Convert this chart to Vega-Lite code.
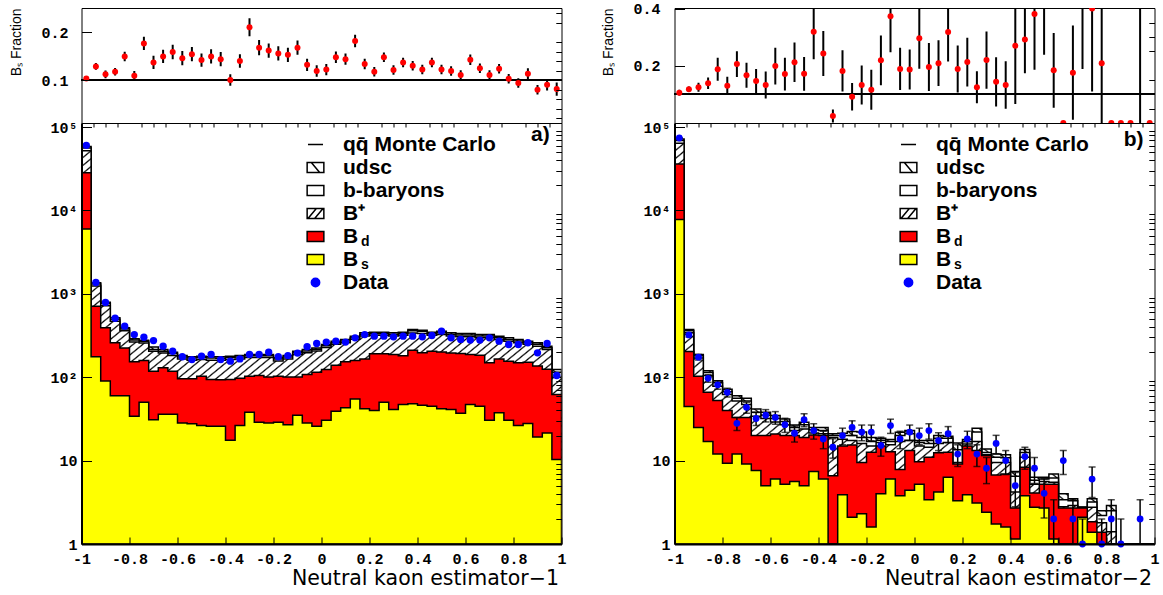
{
  "$schema": "https://vega.github.io/schema/vega-lite/v6.json",
  "background": "white",
  "padding": {"left": 8.5, "top": 1, "right": 0, "bottom": 0},
  "datasets": {
    "legendRows": [
      {"entry": "qq", "sub": "r1"}, {"entry": "udsc", "sub": "r2"}, {"entry": "bbar", "sub": "r3"},
      {"entry": "Bplus", "sub": "r4"}, {"entry": "Bd", "sub": "d"}, {"entry": "Bs", "sub": "s"}, {"entry": "Data", "sub": "r7"}
    ],
    "ratioA": [
      {"x":-0.98,"r":0.1035,"lo":0.0985,"hi":0.1085},{"x":-0.94,"r":0.1287,"lo":0.1217,"hi":0.1357},{"x":-0.9,"r":0.112,"lo":0.104,"hi":0.12},
      {"x":-0.86,"r":0.1175,"lo":0.1095,"hi":0.1255},{"x":-0.82,"r":0.1497,"lo":0.1397,"hi":0.1597},{"x":-0.78,"r":0.109,"lo":0.099,"hi":0.119},
      {"x":-0.74,"r":0.177,"lo":0.163,"hi":0.191},{"x":-0.7,"r":0.137,"lo":0.123,"hi":0.151},{"x":-0.66,"r":0.1497,"lo":0.1357,"hi":0.1637},
      {"x":-0.62,"r":0.159,"lo":0.144,"hi":0.174},{"x":-0.58,"r":0.146,"lo":0.131,"hi":0.161},{"x":-0.54,"r":0.1545,"lo":0.1395,"hi":0.1695},
      {"x":-0.5,"r":0.142,"lo":0.128,"hi":0.156},{"x":-0.46,"r":0.1497,"lo":0.1347,"hi":0.1647},{"x":-0.42,"r":0.144,"lo":0.129,"hi":0.159},
      {"x":-0.38,"r":0.1,"lo":0.088,"hi":0.112},{"x":-0.34,"r":0.14,"lo":0.126,"hi":0.154},{"x":-0.3,"r":0.211,"lo":0.192,"hi":0.23},
      {"x":-0.26,"r":0.168,"lo":0.152,"hi":0.184},{"x":-0.22,"r":0.162,"lo":0.147,"hi":0.177},{"x":-0.18,"r":0.156,"lo":0.141,"hi":0.171},
      {"x":-0.14,"r":0.153,"lo":0.138,"hi":0.168},{"x":-0.1,"r":0.168,"lo":0.153,"hi":0.183},{"x":-0.06,"r":0.132,"lo":0.119,"hi":0.145},
      {"x":-0.02,"r":0.119,"lo":0.107,"hi":0.131},{"x":0.02,"r":0.122,"lo":0.11,"hi":0.134},{"x":0.06,"r":0.148,"lo":0.136,"hi":0.16},
      {"x":0.1,"r":0.144,"lo":0.132,"hi":0.156},{"x":0.14,"r":0.182,"lo":0.169,"hi":0.195},{"x":0.18,"r":0.1336,"lo":0.1226,"hi":0.1446},
      {"x":0.22,"r":0.1175,"lo":0.1075,"hi":0.1275},{"x":0.26,"r":0.148,"lo":0.138,"hi":0.158},{"x":0.3,"r":0.121,"lo":0.111,"hi":0.131},
      {"x":0.34,"r":0.137,"lo":0.127,"hi":0.147},{"x":0.38,"r":0.13,"lo":0.12,"hi":0.14},{"x":0.42,"r":0.122,"lo":0.112,"hi":0.132},
      {"x":0.46,"r":0.137,"lo":0.127,"hi":0.147},{"x":0.5,"r":0.122,"lo":0.112,"hi":0.132},{"x":0.54,"r":0.119,"lo":0.109,"hi":0.129},
      {"x":0.58,"r":0.1105,"lo":0.1005,"hi":0.1205},{"x":0.62,"r":0.1427,"lo":0.1317,"hi":0.1537},{"x":0.66,"r":0.125,"lo":0.115,"hi":0.135},
      {"x":0.7,"r":0.1105,"lo":0.1005,"hi":0.1205},{"x":0.74,"r":0.124,"lo":0.114,"hi":0.134},{"x":0.78,"r":0.1028,"lo":0.0928,"hi":0.1128},
      {"x":0.82,"r":0.0937,"lo":0.0837,"hi":0.1037},{"x":0.86,"r":0.113,"lo":0.101,"hi":0.125},{"x":0.9,"r":0.0797,"lo":0.0697,"hi":0.0897},
      {"x":0.94,"r":0.09,"lo":0.078,"hi":0.102},{"x":0.98,"r":0.081,"lo":0.067,"hi":0.095}
    ],
    "ratioB": [
      {"x":-0.98,"r":0.106,"lo":0.096,"hi":0.116},{"x":-0.94,"r":0.118,"lo":0.108,"hi":0.128},{"x":-0.9,"r":0.125,"lo":0.109,"hi":0.141},
      {"x":-0.86,"r":0.139,"lo":0.119,"hi":0.159},{"x":-0.82,"r":0.188,"lo":0.148,"hi":0.228},{"x":-0.78,"r":0.13,"lo":0.098,"hi":0.162},
      {"x":-0.74,"r":0.206,"lo":0.161,"hi":0.251},{"x":-0.7,"r":0.167,"lo":0.123,"hi":0.211},{"x":-0.66,"r":0.147,"lo":0.105,"hi":0.189},
      {"x":-0.62,"r":0.133,"lo":0.086,"hi":0.18},{"x":-0.58,"r":0.199,"lo":0.135,"hi":0.263},{"x":-0.54,"r":0.171,"lo":0.114,"hi":0.228},
      {"x":-0.5,"r":0.212,"lo":0.143,"hi":0.281},{"x":-0.46,"r":0.172,"lo":0.113,"hi":0.231},{"x":-0.42,"r":0.319,"lo":0.223,"hi":0.415},
      {"x":-0.38,"r":0.243,"lo":0.164,"hi":0.322},{"x":-0.34,"r":0.0246,"lo":0.0016,"hi":0.0476},{"x":-0.3,"r":0.182,"lo":0.11,"hi":0.254},
      {"x":-0.26,"r":0.092,"lo":0.044,"hi":0.14},{"x":-0.22,"r":0.133,"lo":0.065,"hi":0.201},{"x":-0.18,"r":0.116,"lo":0.046,"hi":0.186},
      {"x":-0.14,"r":0.219,"lo":0.132,"hi":0.306},{"x":-0.1,"r":0.373,"lo":0.247,"hi":0.499},{"x":-0.06,"r":0.189,"lo":0.115,"hi":0.263},
      {"x":-0.02,"r":0.187,"lo":0.117,"hi":0.257},{"x":0.02,"r":0.296,"lo":0.19,"hi":0.402},{"x":0.06,"r":0.196,"lo":0.112,"hi":0.28},
      {"x":0.1,"r":0.209,"lo":0.129,"hi":0.289},{"x":0.14,"r":0.318,"lo":0.215,"hi":0.421},{"x":0.18,"r":0.189,"lo":0.107,"hi":0.271},
      {"x":0.22,"r":0.213,"lo":0.128,"hi":0.298},{"x":0.26,"r":0.125,"lo":0.069,"hi":0.181},{"x":0.3,"r":0.22,"lo":0.12,"hi":0.32},
      {"x":0.34,"r":0.144,"lo":0.058,"hi":0.23},{"x":0.38,"r":0.133,"lo":0.05,"hi":0.216},{"x":0.42,"r":0.27,"lo":0.066,"hi":0.474},
      {"x":0.46,"r":0.292,"lo":0.174,"hi":0.41},{"x":0.5,"r":0.381,"lo":0.186,"hi":0.576},{"x":0.54,"r":0.55,"lo":0.239,"hi":0.861},
      {"x":0.58,"r":0.184,"lo":0.053,"hi":0.315},{"x":0.62,"r":0,"lo":0,"hi":0},{"x":0.66,"r":0.176,"lo":0.011,"hi":0.341},
      {"x":0.7,"r":0.6,"lo":0.189,"hi":1.011},{"x":0.74,"r":0.4,"lo":0.11,"hi":0.69},{"x":0.78,"r":0.209,"lo":0,"hi":0.419},
      {"x":0.82,"r":0,"lo":0,"hi":0},{"x":0.86,"r":0,"lo":0,"hi":0},{"x":0.9,"r":0,"lo":0,"hi":0},
      {"x":0.94,"r":0.5,"lo":0,"hi":1},{"x":0.98,"r":0,"lo":0,"hi":0}
    ],
    "histA": [
      {"x":-1,"s":6000,"d":28400,"p":52000,"b":56000,"t":58500,"n":null},
      {"x":-0.98,"s":6000,"d":28400,"p":52000,"b":56000,"t":58500,"n":60500},
      {"x":-0.94,"s":176,"d":712,"p":1240,"b":1310,"t":1360,"n":1370},
      {"x":-0.9,"s":90,"d":392,"p":720,"b":765,"t":795,"n":790},
      {"x":-0.86,"s":60,"d":259,"p":470,"b":495,"t":516,"n":510},
      {"x":-0.82,"s":60,"d":225,"p":360,"b":378,"t":392,"n":410},
      {"x":-0.78,"s":34,"d":153,"p":265,"b":280,"t":289,"n":325},
      {"x":-0.74,"s":50,"d":159,"p":258,"b":270,"t":278,"n":302},
      {"x":-0.7,"s":31,"d":118,"p":205,"b":215,"t":230,"n":275},
      {"x":-0.66,"s":36,"d":130,"p":195,"b":205,"t":215,"n":236},
      {"x":-0.62,"s":36,"d":118,"p":182,"b":192,"t":200,"n":205},
      {"x":-0.58,"s":28.3,"d":96,"p":165,"b":175,"t":182,"n":176},
      {"x":-0.54,"s":27.6,"d":96,"p":160,"b":170,"t":176,"n":163},
      {"x":-0.5,"s":26.3,"d":103,"p":163,"b":172,"t":179,"n":179},
      {"x":-0.46,"s":25.8,"d":94,"p":160,"b":170,"t":176,"n":188},
      {"x":-0.42,"s":25.8,"d":93,"p":160,"b":169,"t":176,"n":163},
      {"x":-0.38,"s":17.5,"d":94,"p":163,"b":172,"t":179,"n":156},
      {"x":-0.34,"s":26.3,"d":97,"p":166,"b":175,"t":182,"n":166},
      {"x":-0.3,"s":38,"d":103,"p":172,"b":181,"t":188,"n":188},
      {"x":-0.26,"s":28.8,"d":105,"p":172,"b":181,"t":188,"n":188},
      {"x":-0.22,"s":28.3,"d":101,"p":172,"b":181,"t":188,"n":200},
      {"x":-0.18,"s":28.8,"d":103,"p":157,"b":165,"t":171,"n":176},
      {"x":-0.14,"s":27,"d":101,"p":166,"b":175,"t":182,"n":182},
      {"x":-0.1,"s":35,"d":101,"p":188,"b":197,"t":205,"n":195},
      {"x":-0.06,"s":28.3,"d":108,"p":197,"b":207,"t":215,"n":232},
      {"x":-0.02,"s":25.8,"d":115,"p":207,"b":217,"t":225,"n":254},
      {"x":0.02,"s":30.5,"d":124,"p":227,"b":238,"t":247,"n":264},
      {"x":0.06,"s":39,"d":139,"p":248,"b":260,"t":271,"n":271},
      {"x":0.1,"s":43,"d":153,"p":260,"b":273,"t":284,"n":264},
      {"x":0.14,"s":55,"d":159,"p":285,"b":298,"t":311,"n":297},
      {"x":0.18,"s":42,"d":166,"p":312,"b":327,"t":341,"n":325},
      {"x":0.22,"s":40,"d":191,"p":318,"b":333,"t":347,"n":311},
      {"x":0.26,"s":50,"d":191,"p":318,"b":333,"t":347,"n":311},
      {"x":0.3,"s":41,"d":187,"p":312,"b":327,"t":341,"n":305},
      {"x":0.34,"s":47,"d":181,"p":318,"b":333,"t":347,"n":311},
      {"x":0.38,"s":48,"d":211,"p":340,"b":360,"t":374,"n":311},
      {"x":0.42,"s":46,"d":196,"p":335,"b":355,"t":367,"n":305},
      {"x":0.46,"s":45,"d":205,"p":318,"b":333,"t":347,"n":317},
      {"x":0.5,"s":42,"d":201,"p":325,"b":342,"t":357,"n":357},
      {"x":0.54,"s":41,"d":195,"p":312,"b":327,"t":341,"n":297},
      {"x":0.58,"s":37,"d":192,"p":305,"b":320,"t":335,"n":284},
      {"x":0.62,"s":47,"d":187,"p":305,"b":320,"t":335,"n":279},
      {"x":0.66,"s":45,"d":183,"p":297,"b":312,"t":326,"n":279},
      {"x":0.7,"s":30.5,"d":149,"p":297,"b":312,"t":326,"n":297},
      {"x":0.74,"s":37.4,"d":166,"p":284,"b":297,"t":311,"n":271},
      {"x":0.78,"s":30.5,"d":155,"p":271,"b":284,"t":297,"n":247},
      {"x":0.82,"s":26.3,"d":149,"p":259,"b":272,"t":284,"n":247},
      {"x":0.86,"s":27.8,"d":151,"p":248,"b":260,"t":271,"n":259},
      {"x":0.9,"s":19.2,"d":136,"p":236,"b":248,"t":259,"n":196},
      {"x":0.94,"s":21.5,"d":125,"p":215,"b":226,"t":236,"n":254},
      {"x":0.98,"s":10.3,"d":62,"p":100,"b":115,"t":124,"n":105},
      {"x":1,"s":10.3,"d":62,"p":100,"b":115,"t":124,"n":null}
    ],
    "histB": [
      {"x":-1,"s":7820,"d":36000,"p":64000,"b":69000,"t":72000,"n":null,"nl":null,"nh":null},
      {"x":-0.98,"s":7820,"d":36000,"p":64000,"b":69000,"t":72000,"n":74000,"nl":73700,"nh":74300},
      {"x":-0.94,"s":44.5,"d":203,"p":341,"b":360,"t":373,"n":322,"nl":304,"nh":340},
      {"x":-0.9,"s":25,"d":103,"p":170,"b":181,"t":187,"n":174,"nl":161,"nh":187},
      {"x":-0.86,"s":16.9,"d":66,"p":105,"b":114,"t":120,"n":97,"nl":87,"nh":107},
      {"x":-0.82,"s":12,"d":52.5,"p":78,"b":86,"t":91,"n":81,"nl":72,"nh":90},
      {"x":-0.78,"s":9.3,"d":40,"p":62,"b":67,"t":72,"n":66,"nl":58,"nh":74},
      {"x":-0.74,"s":12,"d":33,"p":52,"b":56,"t":60,"n":28,"nl":23,"nh":33},
      {"x":-0.7,"s":9.1,"d":33,"p":47,"b":52,"t":56,"n":43.6,"nl":37,"nh":50},
      {"x":-0.66,"s":7.6,"d":20,"p":34,"b":38,"t":41.7,"n":32,"nl":26.3,"nh":37.7},
      {"x":-0.62,"s":5,"d":20,"p":32,"b":35,"t":38,"n":35,"nl":29.1,"nh":40.9},
      {"x":-0.58,"s":6,"d":20.9,"p":29,"b":32,"t":34.7,"n":33,"nl":27.3,"nh":38.7},
      {"x":-0.54,"s":5.2,"d":20,"p":27,"b":29.5,"t":31.6,"n":27,"nl":21.8,"nh":32.2},
      {"x":-0.5,"s":5.6,"d":20,"p":23,"b":25,"t":26.8,"n":21.3,"nl":16.7,"nh":25.9},
      {"x":-0.46,"s":5,"d":19,"p":24,"b":27,"t":28.8,"n":31,"nl":25.4,"nh":36.6},
      {"x":-0.42,"s":7.4,"d":20.3,"p":21.5,"b":23.5,"t":25,"n":22.9,"nl":18.1,"nh":27.7},
      {"x":-0.38,"s":6,"d":20,"p":21,"b":23,"t":25,"n":18.2,"nl":13.9,"nh":22.5},
      {"x":-0.34,"s":0.5,"d":6.6,"p":19,"b":20,"t":21,"n":14.5,"nl":10.7,"nh":18.3},
      {"x":-0.3,"s":3.9,"d":15,"p":18,"b":20,"t":21.3,"n":20,"nl":15.5,"nh":24.5},
      {"x":-0.26,"s":2.1,"d":15.4,"p":17.4,"b":20,"t":22.3,"n":25,"nl":20,"nh":30},
      {"x":-0.22,"s":2.3,"d":9.5,"p":16,"b":19,"t":22,"n":22,"nl":17.3,"nh":26.7},
      {"x":-0.18,"s":1.6,"d":12.6,"p":15,"b":17,"t":19,"n":22,"nl":17.3,"nh":26.7},
      {"x":-0.14,"s":4,"d":15,"p":16.5,"b":17.5,"t":18.5,"n":15.2,"nl":11.3,"nh":19.1},
      {"x":-0.1,"s":6,"d":12.8,"p":15.5,"b":17,"t":17.9,"n":26.3,"nl":21.2,"nh":31.4},
      {"x":-0.06,"s":3.8,"d":7.8,"p":17,"b":20,"t":21.9,"n":18.2,"nl":13.9,"nh":22.5},
      {"x":-0.02,"s":4.4,"d":13.2,"p":17.5,"b":21,"t":22.9,"n":22,"nl":17.3,"nh":26.7},
      {"x":0.02,"s":5.2,"d":9.7,"p":15,"b":16.5,"t":17.4,"n":20,"nl":15.5,"nh":24.5},
      {"x":0.06,"s":3.4,"d":11,"p":14.5,"b":16,"t":17.4,"n":22.9,"nl":18.1,"nh":27.7},
      {"x":0.1,"s":4.2,"d":12.4,"p":16,"b":18.5,"t":20,"n":17.4,"nl":13.2,"nh":21.6},
      {"x":0.14,"s":6.3,"d":12.6,"p":16.5,"b":18.5,"t":19.6,"n":21,"nl":16.4,"nh":25.6},
      {"x":0.18,"s":3.3,"d":9.1,"p":9.5,"b":13.5,"t":16.3,"n":12,"nl":8.5,"nh":15.5},
      {"x":0.22,"s":3.9,"d":15,"p":15.8,"b":16.8,"t":17.9,"n":18.2,"nl":13.9,"nh":22.5},
      {"x":0.26,"s":3.1,"d":13.2,"p":17,"b":22,"t":24.4,"n":12,"nl":8.5,"nh":15.5},
      {"x":0.3,"s":2.4,"d":11.5,"p":11.8,"b":12.5,"t":13.8,"n":8.1,"nl":5.3,"nh":10.9},
      {"x":0.34,"s":1.74,"d":6.7,"p":9.5,"b":11,"t":12,"n":16.1,"nl":12.1,"nh":20.1},
      {"x":0.38,"s":1.6,"d":6.9,"p":9.5,"b":10.8,"t":11.8,"n":10,"nl":6.8,"nh":13.2},
      {"x":0.42,"s":1.15,"d":2.7,"p":4.2,"b":6.5,"t":7.4,"n":5,"nl":2.8,"nh":7.2},
      {"x":0.46,"s":3.8,"d":8.3,"p":11,"b":12.5,"t":13.6,"n":11.2,"nl":7.9,"nh":14.5},
      {"x":0.5,"s":2.75,"d":4.1,"p":5.2,"b":5.8,"t":6.3,"n":8.1,"nl":5.3,"nh":10.9},
      {"x":0.54,"s":2.7,"d":5.2,"p":5.6,"b":6,"t":6.3,"n":4.05,"nl":2.05,"nh":6.05},
      {"x":0.58,"s":1.15,"d":5.2,"p":5.5,"b":6.2,"t":6.9,"n":2,"nl":0.6,"nh":3.4},
      {"x":0.62,"s":0,"d":2.7,"p":2.8,"b":3.4,"t":4,"n":10,"nl":6.8,"nh":13.2},
      {"x":0.66,"s":0.6,"d":2.7,"p":2.9,"b":3.3,"t":3.5,"n":2,"nl":0.6,"nh":3.4},
      {"x":0.7,"s":2.1,"d":2.7,"p":2.75,"b":2.75,"t":2.75,"n":1,"nl":0,"nh":2},
      {"x":0.74,"s":1.38,"d":1.85,"p":2.75,"b":3.2,"t":3.5,"n":6,"nl":3.6,"nh":8.4},
      {"x":0.78,"s":0.5,"d":1.38,"p":1.8,"b":2.2,"t":2.5,"n":1,"nl":0,"nh":2},
      {"x":0.82,"s":0,"d":0.8,"p":1.4,"b":2.5,"t":2.9,"n":2,"nl":0.6,"nh":3.4},
      {"x":0.86,"s":0,"d":0,"p":0.6,"b":0.8,"t":0.9,"n":1,"nl":0,"nh":2},
      {"x":0.9,"s":0,"d":0,"p":0,"b":0,"t":0,"n":null,"nl":null,"nh":null},
      {"x":0.94,"s":0,"d":0,"p":0,"b":0,"t":0,"n":2,"nl":0.6,"nh":3.4},
      {"x":0.98,"s":0,"d":0,"p":0,"b":0,"t":0,"n":null,"nl":null,"nh":null},
      {"x":1,"s":0,"d":0,"p":0,"b":0,"t":0,"n":null,"nl":null,"nh":null}
    ]
  },
  "hconcat": [
    {
      "vconcat": [
        {
          "width": 480, "height": 115,
          "data": {"name": "ratioA"},
          "layer": [
            {"mark": {"type": "rule", "color": "#000", "strokeWidth": 1},
             "encoding": {"y": {"datum": 0.1, "type": "quantitative", "scale": {"domain": [0.0097, 0.2515], "nice": false, "zero": false},
               "axis": {"values": [0.1, 0.2], "format": ".1f", "tickSize": -10, "labelPadding": 23.4, "domain": false, "zindex": 1,
                 "title": "Bₛ Fraction", "titleFont": "Liberation Sans", "titleFontWeight": "normal", "titleFontSize": 14,
                 "titleAngle": 270, "titleAlign": "right", "titleBaseline": "alphabetic", "titleX": -61, "titleY": 0}}}},
            {"mark": {"type": "rule", "color": "#000", "strokeWidth": 2, "clip": true},
             "encoding": {"x": {"field": "x", "type": "quantitative", "scale": {"domain": [-1, 1], "nice": false, "zero": false}, "axis": null},
               "y": {"field": "lo", "type": "quantitative", "axis": {"values": [0.02,0.04,0.06,0.08,0.12,0.14,0.16,0.18,0.22,0.24], "labels": false, "tickSize": -5.7, "domain": false, "title": null, "zindex": 1}},
               "y2": {"field": "hi"}}},
            {"mark": {"type": "point", "filled": true, "color": "#ff0000", "opacity": 1, "size": 36, "strokeWidth": 0, "clip": true},
             "encoding": {"x": {"field": "x", "type": "quantitative", "axis": null}, "y": {"field": "r", "type": "quantitative", "axis": null}}}
          ],
          "resolve": {"axis": {"y": "independent"}}
        },
        {
          "width": 480, "height": 421,
          "data": {"name": "histA"},
          "layer": [
            {"mark": {"type": "area", "interpolate": "step", "style": "hatchB", "stroke": "#000", "strokeWidth": 1.5, "clip": true},
             "encoding": {
               "x": {"field": "x", "type": "quantitative", "scale": {"domain": [-1, 1], "nice": false, "zero": false},
                 "axis": {"values": [-1,-0.8,-0.6,-0.4,-0.2,0,0.2,0.4,0.6,0.8,1], "labelExpr": "datum.value < 0 ? '-' + format(-datum.value, '~g') : format(datum.value, '~g')",
                   "tickSize": -7, "labelPadding": 21, "labelBaseline": "middle", "labelFlush": false, "domainWidth": 2, "zindex": 1,
                   "title": "Neutral kaon estimator−1", "titleFont": "DejaVu Sans", "titleFontWeight": "normal", "titleFontSize": 20.5,
                   "titleAlign": "right", "titleBaseline": "middle", "titleX": 477, "titleY": 34}},
               "y": {"field": "t", "type": "quantitative", "scale": {"type": "log", "domain": [1, 112000], "nice": false, "clamp": true},
                 "axis": {"values": [1,10,100,1000,10000,100000], "labelExpr": "datum.value == 1 ? '1\u00a0' : datum.value == 10 ? '10\u00a0' : datum.value == 100 ? '10²' : datum.value == 1000 ? '10³' : datum.value == 10000 ? '10⁴' : '10⁵'",
                   "tickSize": -10, "labelPadding": 14.4, "labelBaseline": "middle", "domainWidth": 2, "zindex": 1, "title": null}}}},
            {"mark": {"type": "area", "interpolate": "step", "fill": "#fff", "stroke": "#000", "strokeWidth": 1.5, "clip": true},
             "encoding": {
               "x": {"field": "x", "type": "quantitative", "axis": {"values": [-0.95,-0.9,-0.85,-0.75,-0.7,-0.65,-0.55,-0.5,-0.45,-0.35,-0.3,-0.25,-0.15,-0.1,-0.05,0.05,0.1,0.15,0.25,0.3,0.35,0.45,0.5,0.55,0.65,0.7,0.75,0.85,0.9,0.95], "labels": false, "tickSize": -4, "domain": false, "title": null, "zindex": 1}},
               "y": {"field": "b", "type": "quantitative", "axis": {"values": [2,3,4,5,6,7,8,9,20,30,40,50,60,70,80,90,200,300,400,500,600,700,800,900,2000,3000,4000,5000,6000,7000,8000,9000,20000,30000,40000,50000,60000,70000,80000,90000], "labels": false, "tickSize": -5.7, "domain": false, "title": null, "zindex": 1}}}},
            {"mark": {"type": "area", "interpolate": "step", "style": "hatchF", "stroke": "#000", "strokeWidth": 1.5, "clip": true},
             "encoding": {"x": {"field": "x", "type": "quantitative", "axis": null}, "y": {"field": "p", "type": "quantitative", "axis": null}}},
            {"mark": {"type": "area", "interpolate": "step", "fill": "#ff0000", "stroke": "#000", "strokeWidth": 1.5, "clip": true},
             "encoding": {"x": {"field": "x", "type": "quantitative", "axis": null}, "y": {"field": "d", "type": "quantitative", "axis": null}}},
            {"mark": {"type": "area", "interpolate": "step", "fill": "#ffff00", "stroke": "#000", "strokeWidth": 1.5, "clip": true},
             "encoding": {"x": {"field": "x", "type": "quantitative", "axis": null}, "y": {"field": "s", "type": "quantitative", "axis": null}}},
            {"transform": [{"filter": "datum.n != null"}],
             "mark": {"type": "point", "filled": true, "color": "#0000ff", "opacity": 1, "size": 54, "strokeWidth": 0},
             "encoding": {"x": {"field": "x", "type": "quantitative", "axis": null}, "y": {"field": "n", "type": "quantitative", "axis": null}}},
            {"data": {"name": "legendRows"},
             "mark": {"type": "point", "filled": true, "opacity": 0},
             "encoding": {
               "x": {"datum": 0, "type": "quantitative", "axis": null},
               "y": {"datum": 1000, "type": "quantitative", "axis": null},
               "shape": {"field": "entry", "type": "nominal",
                 "scale": {"domain": ["qq","udsc","bbar","Bplus","Bd","Bs","Data"],
                   "range": ["M-0.9,0H0.9","M-1,-0.6H1V0.6H-1Z M-0.5,-0.6L0.5,0.6","M-1,-0.6H1V0.6H-1Z","M-1,-0.6H1V0.6H-1Z M-0.9,0.6L0.1,-0.6 M-0.1,0.6L0.9,-0.6","M-1,-0.6H1V0.6H-1Z","M-1,-0.6H1V0.6H-1Z","M-0.5,0A0.5,0.5,0,1,1,0.5,0A0.5,0.5,0,1,1,-0.5,0Z"]},
                 "legend": {"title": null, "orient": "none", "legendX": 223.5, "legendY": 125, "padding": 0, "clipHeight": 23, "rowPadding": 0,
                   "symbolSize": 279, "symbolStrokeWidth": 1.5, "symbolOpacity": 1, "labelFont": "Liberation Sans", "labelFontWeight": "bold", "labelFontSize": 21,
                   "labelColor": "#000", "labelOffset": 17, "labelLimit": 400, "labelBaseline": "middle",
                   "labelExpr": "datum.value == 'qq' ? 'qq̄ Monte Carlo' : datum.value == 'udsc' ? 'udsc' : datum.value == 'bbar' ? 'b-baryons' : datum.value == 'Data' ? 'Data' : datum.value == 'Bplus' ? 'B⁺' : 'B'"}},
               "fill": {"field": "entry", "type": "nominal",
                 "scale": {"domain": ["qq","udsc","bbar","Bplus","Bd","Bs","Data"], "range": ["transparent","#ffffff","#ffffff","#ffffff","#ff0000","#ffff00","#0000ff"]},
                 "legend": {"title": null, "orient": "none", "legendX": 223.5, "legendY": 125, "padding": 0, "clipHeight": 23, "rowPadding": 0,
                   "symbolSize": 279, "symbolStrokeWidth": 1.5, "symbolOpacity": 1, "labelFont": "Liberation Sans", "labelFontWeight": "bold", "labelFontSize": 21,
                   "labelColor": "#000", "labelOffset": 17, "labelLimit": 400, "labelBaseline": "middle",
                   "labelExpr": "datum.value == 'qq' ? 'qq̄ Monte Carlo' : datum.value == 'udsc' ? 'udsc' : datum.value == 'bbar' ? 'b-baryons' : datum.value == 'Data' ? 'Data' : datum.value == 'Bplus' ? 'B⁺' : 'B'"}},
               "stroke": {"field": "entry", "type": "nominal",
                 "scale": {"domain": ["qq","udsc","bbar","Bplus","Bd","Bs","Data"], "range": ["#000000","#000000","#000000","#000000","#000000","#000000","#0000ff"]},
                 "legend": {"title": null, "orient": "none", "legendX": 223.5, "legendY": 125, "padding": 0, "clipHeight": 23, "rowPadding": 0,
                   "symbolSize": 279, "symbolStrokeWidth": 1.5, "symbolOpacity": 1, "labelFont": "Liberation Sans", "labelFontWeight": "bold", "labelFontSize": 21,
                   "labelColor": "#000", "labelOffset": 17, "labelLimit": 400, "labelBaseline": "middle",
                   "labelExpr": "datum.value == 'qq' ? 'qq̄ Monte Carlo' : datum.value == 'udsc' ? 'udsc' : datum.value == 'bbar' ? 'b-baryons' : datum.value == 'Data' ? 'Data' : datum.value == 'Bplus' ? 'B⁺' : 'B'"}},
               "strokeDash": {"field": "sub", "type": "nominal",
                 "scale": {"domain": ["r1","r2","r3","r4","d","s","r7"], "range": [[1,0],[1,0],[1,0],[1,0],[1,0],[1,0],[1,0]]},
                 "legend": {"title": null, "orient": "none", "legendX": 265.5, "legendY": 130, "padding": 0, "clipHeight": 23, "rowPadding": 0,
                   "symbolSize": 1, "symbolOpacity": 0, "labelOffset": 0, "labelFont": "Liberation Sans", "labelFontWeight": "bold", "labelFontSize": 14,
                   "labelColor": "#000", "labelBaseline": "middle",
                   "labelExpr": "datum.value == 'd' || datum.value == 's' ? datum.value : ''"}}}},
            {"data": {"values": [{}]},
             "mark": {"type": "text", "text": "a)", "font": "Liberation Sans", "fontWeight": "bold", "fontSize": 21, "align": "right", "baseline": "middle", "color": "#000"},
             "encoding": {"x": {"datum": 0.951, "type": "quantitative", "axis": null}, "y": {"datum": 80000, "type": "quantitative", "axis": null}}}
          ],
          "resolve": {"axis": {"x": "independent", "y": "independent"}}
        }
      ],
      "spacing": 0,
      "bounds": "flush"
    },
    {
      "vconcat": [
        {
          "width": 480, "height": 115,
          "data": {"name": "ratioB"},
          "layer": [
            {"mark": {"type": "rule", "color": "#000", "strokeWidth": 1},
             "encoding": {"y": {"datum": 0.1, "type": "quantitative", "scale": {"domain": [0, 0.402], "nice": false, "zero": false},
               "axis": {"values": [0.2, 0.4], "format": ".1f", "tickSize": -10, "labelPadding": 24.4, "domain": false, "zindex": 1,
                 "title": "Bₛ Fraction", "titleFont": "Liberation Sans", "titleFontWeight": "normal", "titleFontSize": 14,
                 "titleAngle": 270, "titleAlign": "right", "titleBaseline": "alphabetic", "titleX": -62, "titleY": 0}}}},
            {"mark": {"type": "rule", "color": "#000", "strokeWidth": 2, "clip": true},
             "encoding": {"x": {"field": "x", "type": "quantitative", "scale": {"domain": [-1, 1], "nice": false, "zero": false}, "axis": null},
               "y": {"field": "lo", "type": "quantitative", "axis": {"values": [0.05,0.1,0.15,0.25,0.3,0.35], "labels": false, "tickSize": -5.7, "domain": false, "title": null, "zindex": 1}},
               "y2": {"field": "hi"}}},
            {"mark": {"type": "point", "filled": true, "color": "#ff0000", "opacity": 1, "size": 36, "strokeWidth": 0, "clip": true},
             "encoding": {"x": {"field": "x", "type": "quantitative", "axis": null}, "y": {"field": "r", "type": "quantitative", "axis": null}}}
          ],
          "resolve": {"axis": {"y": "independent"}}
        },
        {
          "width": 480, "height": 421,
          "data": {"name": "histB"},
          "layer": [
            {"mark": {"type": "area", "interpolate": "step", "style": "hatchB", "stroke": "#000", "strokeWidth": 1.5, "clip": true},
             "encoding": {
               "x": {"field": "x", "type": "quantitative", "scale": {"domain": [-1, 1], "nice": false, "zero": false},
                 "axis": {"values": [-1,-0.8,-0.6,-0.4,-0.2,0,0.2,0.4,0.6,0.8,1], "labelExpr": "datum.value < 0 ? '-' + format(-datum.value, '~g') : format(datum.value, '~g')",
                   "tickSize": -7, "labelPadding": 21, "labelBaseline": "middle", "labelFlush": false, "domainWidth": 2, "zindex": 1,
                   "title": "Neutral kaon estimator−2", "titleFont": "DejaVu Sans", "titleFontWeight": "normal", "titleFontSize": 20.5,
                   "titleAlign": "right", "titleBaseline": "middle", "titleX": 477, "titleY": 34}},
               "y": {"field": "t", "type": "quantitative", "scale": {"type": "log", "domain": [1, 112000], "nice": false, "clamp": true},
                 "axis": {"values": [1,10,100,1000,10000,100000], "labelExpr": "datum.value == 1 ? '1\u00a0' : datum.value == 10 ? '10\u00a0' : datum.value == 100 ? '10²' : datum.value == 1000 ? '10³' : datum.value == 10000 ? '10⁴' : '10⁵'",
                   "tickSize": -10, "labelPadding": 14.4, "labelBaseline": "middle", "domainWidth": 2, "zindex": 1, "title": null}}}},
            {"mark": {"type": "area", "interpolate": "step", "fill": "#fff", "stroke": "#000", "strokeWidth": 1.5, "clip": true},
             "encoding": {
               "x": {"field": "x", "type": "quantitative", "axis": {"values": [-0.95,-0.9,-0.85,-0.75,-0.7,-0.65,-0.55,-0.5,-0.45,-0.35,-0.3,-0.25,-0.15,-0.1,-0.05,0.05,0.1,0.15,0.25,0.3,0.35,0.45,0.5,0.55,0.65,0.7,0.75,0.85,0.9,0.95], "labels": false, "tickSize": -4, "domain": false, "title": null, "zindex": 1}},
               "y": {"field": "b", "type": "quantitative", "axis": {"values": [2,3,4,5,6,7,8,9,20,30,40,50,60,70,80,90,200,300,400,500,600,700,800,900,2000,3000,4000,5000,6000,7000,8000,9000,20000,30000,40000,50000,60000,70000,80000,90000], "labels": false, "tickSize": -5.7, "domain": false, "title": null, "zindex": 1}}}},
            {"mark": {"type": "area", "interpolate": "step", "style": "hatchF", "stroke": "#000", "strokeWidth": 1.5, "clip": true},
             "encoding": {"x": {"field": "x", "type": "quantitative", "axis": null}, "y": {"field": "p", "type": "quantitative", "axis": null}}},
            {"mark": {"type": "area", "interpolate": "step", "fill": "#ff0000", "stroke": "#000", "strokeWidth": 1.5, "clip": true},
             "encoding": {"x": {"field": "x", "type": "quantitative", "axis": null}, "y": {"field": "d", "type": "quantitative", "axis": null}}},
            {"mark": {"type": "area", "interpolate": "step", "fill": "#ffff00", "stroke": "#000", "strokeWidth": 1.5, "clip": true},
             "encoding": {"x": {"field": "x", "type": "quantitative", "axis": null}, "y": {"field": "s", "type": "quantitative", "axis": null}}},
            {"transform": [{"filter": "datum.n != null"}],
             "mark": {"type": "rule", "color": "#000", "strokeWidth": 1.5, "clip": true},
             "encoding": {"x": {"field": "x", "type": "quantitative", "axis": null}, "y": {"field": "nl", "type": "quantitative", "axis": null}, "y2": {"field": "nh"}}},
            {"transform": [{"filter": "datum.n != null"}],
             "mark": {"type": "tick", "orient": "horizontal", "color": "#000", "size": 7, "thickness": 1.5, "clip": true},
             "encoding": {"x": {"field": "x", "type": "quantitative", "axis": null}, "y": {"field": "nh", "type": "quantitative", "axis": null}}},
            {"transform": [{"filter": "datum.n != null"}],
             "mark": {"type": "tick", "orient": "horizontal", "color": "#000", "size": 7, "thickness": 1.5, "clip": true},
             "encoding": {"x": {"field": "x", "type": "quantitative", "axis": null}, "y": {"field": "nl", "type": "quantitative", "axis": null}}},
            {"transform": [{"filter": "datum.n != null"}],
             "mark": {"type": "point", "filled": true, "color": "#0000ff", "opacity": 1, "size": 46, "strokeWidth": 0},
             "encoding": {"x": {"field": "x", "type": "quantitative", "axis": null}, "y": {"field": "n", "type": "quantitative", "axis": null}}},
            {"data": {"name": "legendRows"},
             "mark": {"type": "point", "filled": true, "opacity": 0},
             "encoding": {
               "x": {"datum": 0, "type": "quantitative", "axis": null},
               "y": {"datum": 1000, "type": "quantitative", "axis": null},
               "shape": {"field": "entry", "type": "nominal",
                 "scale": {"domain": ["qq","udsc","bbar","Bplus","Bd","Bs","Data"],
                   "range": ["M-0.9,0H0.9","M-1,-0.6H1V0.6H-1Z M-0.5,-0.6L0.5,0.6","M-1,-0.6H1V0.6H-1Z","M-1,-0.6H1V0.6H-1Z M-0.9,0.6L0.1,-0.6 M-0.1,0.6L0.9,-0.6","M-1,-0.6H1V0.6H-1Z","M-1,-0.6H1V0.6H-1Z","M-0.5,0A0.5,0.5,0,1,1,0.5,0A0.5,0.5,0,1,1,-0.5,0Z"]},
                 "legend": {"title": null, "orient": "none", "legendX": 223.5, "legendY": 125, "padding": 0, "clipHeight": 23, "rowPadding": 0,
                   "symbolSize": 279, "symbolStrokeWidth": 1.5, "symbolOpacity": 1, "labelFont": "Liberation Sans", "labelFontWeight": "bold", "labelFontSize": 21,
                   "labelColor": "#000", "labelOffset": 17, "labelLimit": 400, "labelBaseline": "middle",
                   "labelExpr": "datum.value == 'qq' ? 'qq̄ Monte Carlo' : datum.value == 'udsc' ? 'udsc' : datum.value == 'bbar' ? 'b-baryons' : datum.value == 'Data' ? 'Data' : datum.value == 'Bplus' ? 'B⁺' : 'B'"}},
               "fill": {"field": "entry", "type": "nominal",
                 "scale": {"domain": ["qq","udsc","bbar","Bplus","Bd","Bs","Data"], "range": ["transparent","#ffffff","#ffffff","#ffffff","#ff0000","#ffff00","#0000ff"]},
                 "legend": {"title": null, "orient": "none", "legendX": 223.5, "legendY": 125, "padding": 0, "clipHeight": 23, "rowPadding": 0,
                   "symbolSize": 279, "symbolStrokeWidth": 1.5, "symbolOpacity": 1, "labelFont": "Liberation Sans", "labelFontWeight": "bold", "labelFontSize": 21,
                   "labelColor": "#000", "labelOffset": 17, "labelLimit": 400, "labelBaseline": "middle",
                   "labelExpr": "datum.value == 'qq' ? 'qq̄ Monte Carlo' : datum.value == 'udsc' ? 'udsc' : datum.value == 'bbar' ? 'b-baryons' : datum.value == 'Data' ? 'Data' : datum.value == 'Bplus' ? 'B⁺' : 'B'"}},
               "stroke": {"field": "entry", "type": "nominal",
                 "scale": {"domain": ["qq","udsc","bbar","Bplus","Bd","Bs","Data"], "range": ["#000000","#000000","#000000","#000000","#000000","#000000","#0000ff"]},
                 "legend": {"title": null, "orient": "none", "legendX": 223.5, "legendY": 125, "padding": 0, "clipHeight": 23, "rowPadding": 0,
                   "symbolSize": 279, "symbolStrokeWidth": 1.5, "symbolOpacity": 1, "labelFont": "Liberation Sans", "labelFontWeight": "bold", "labelFontSize": 21,
                   "labelColor": "#000", "labelOffset": 17, "labelLimit": 400, "labelBaseline": "middle",
                   "labelExpr": "datum.value == 'qq' ? 'qq̄ Monte Carlo' : datum.value == 'udsc' ? 'udsc' : datum.value == 'bbar' ? 'b-baryons' : datum.value == 'Data' ? 'Data' : datum.value == 'Bplus' ? 'B⁺' : 'B'"}},
               "strokeDash": {"field": "sub", "type": "nominal",
                 "scale": {"domain": ["r1","r2","r3","r4","d","s","r7"], "range": [[1,0],[1,0],[1,0],[1,0],[1,0],[1,0],[1,0]]},
                 "legend": {"title": null, "orient": "none", "legendX": 265.5, "legendY": 130, "padding": 0, "clipHeight": 23, "rowPadding": 0,
                   "symbolSize": 1, "symbolOpacity": 0, "labelOffset": 0, "labelFont": "Liberation Sans", "labelFontWeight": "bold", "labelFontSize": 14,
                   "labelColor": "#000", "labelBaseline": "middle",
                   "labelExpr": "datum.value == 'd' || datum.value == 's' ? datum.value : ''"}}}},
            {"data": {"values": [{}]},
             "mark": {"type": "text", "text": "b)", "font": "Liberation Sans", "fontWeight": "bold", "fontSize": 21, "align": "right", "baseline": "middle", "color": "#000"},
             "encoding": {"x": {"datum": 0.954, "type": "quantitative", "axis": null}, "y": {"datum": 70000, "type": "quantitative", "axis": null}}}
          ],
          "resolve": {"axis": {"x": "independent", "y": "independent"}}
        }
      ],
      "spacing": 0,
      "bounds": "flush"
    }
  ],
  "spacing": 33,
  "resolve": {
    "scale": {"shape": "independent", "fill": "independent", "stroke": "independent", "strokeDash": "independent"},
    "legend": {"shape": "independent", "fill": "independent", "stroke": "independent", "strokeDash": "independent"}
  },
  "config": {
    "view": {"stroke": "#000", "strokeWidth": 1},
    "font": "Liberation Sans",
    "mark": {"invalid": "show"},
    "axis": {"grid": false, "labelFont": "Liberation Mono", "labelFontWeight": "bold", "labelFontSize": 15, "labelColor": "#000",
      "tickColor": "#000", "tickWidth": 1, "domainColor": "#000", "titleColor": "#000", "labelOverlap": false},
    "style": {
      "hatchF": {"color": {"gradient": "linear", "x1": 0, "y1": 0, "x2": 1, "y2": 1, "stops": [
        {"offset":0,"color":"#000"},{"offset":0.002,"color":"#fff"},{"offset":0.008,"color":"#fff"},
        {"offset":0.01,"color":"#000"},{"offset":0.012,"color":"#fff"},{"offset":0.018,"color":"#fff"},
        {"offset":0.02,"color":"#000"},{"offset":0.022,"color":"#fff"},{"offset":0.028,"color":"#fff"},
        {"offset":0.03,"color":"#000"},{"offset":0.032,"color":"#fff"},{"offset":0.038,"color":"#fff"},
        {"offset":0.04,"color":"#000"},{"offset":0.042,"color":"#fff"},{"offset":0.048,"color":"#fff"},
        {"offset":0.05,"color":"#000"},{"offset":0.052,"color":"#fff"},{"offset":0.058,"color":"#fff"},
        {"offset":0.06,"color":"#000"},{"offset":0.062,"color":"#fff"},{"offset":0.068,"color":"#fff"},
        {"offset":0.07,"color":"#000"},{"offset":0.072,"color":"#fff"},{"offset":0.078,"color":"#fff"},
        {"offset":0.08,"color":"#000"},{"offset":0.082,"color":"#fff"},{"offset":0.088,"color":"#fff"},
        {"offset":0.09,"color":"#000"},{"offset":0.092,"color":"#fff"},{"offset":0.098,"color":"#fff"},
        {"offset":0.1,"color":"#000"},{"offset":0.102,"color":"#fff"},{"offset":0.108,"color":"#fff"},
        {"offset":0.11,"color":"#000"},{"offset":0.112,"color":"#fff"},{"offset":0.118,"color":"#fff"},
        {"offset":0.12,"color":"#000"},{"offset":0.122,"color":"#fff"},{"offset":0.128,"color":"#fff"},
        {"offset":0.13,"color":"#000"},{"offset":0.132,"color":"#fff"},{"offset":0.138,"color":"#fff"},
        {"offset":0.14,"color":"#000"},{"offset":0.142,"color":"#fff"},{"offset":0.148,"color":"#fff"},
        {"offset":0.15,"color":"#000"},{"offset":0.152,"color":"#fff"},{"offset":0.158,"color":"#fff"},
        {"offset":0.16,"color":"#000"},{"offset":0.162,"color":"#fff"},{"offset":0.168,"color":"#fff"},
        {"offset":0.17,"color":"#000"},{"offset":0.172,"color":"#fff"},{"offset":0.178,"color":"#fff"},
        {"offset":0.18,"color":"#000"},{"offset":0.182,"color":"#fff"},{"offset":0.188,"color":"#fff"},
        {"offset":0.19,"color":"#000"},{"offset":0.192,"color":"#fff"},{"offset":0.198,"color":"#fff"},
        {"offset":0.2,"color":"#000"},{"offset":0.202,"color":"#fff"},{"offset":0.208,"color":"#fff"},
        {"offset":0.21,"color":"#000"},{"offset":0.212,"color":"#fff"},{"offset":0.218,"color":"#fff"},
        {"offset":0.22,"color":"#000"},{"offset":0.222,"color":"#fff"},{"offset":0.228,"color":"#fff"},
        {"offset":0.23,"color":"#000"},{"offset":0.232,"color":"#fff"},{"offset":0.238,"color":"#fff"},
        {"offset":0.24,"color":"#000"},{"offset":0.242,"color":"#fff"},{"offset":0.248,"color":"#fff"},
        {"offset":0.25,"color":"#000"},{"offset":0.252,"color":"#fff"},{"offset":0.258,"color":"#fff"},
        {"offset":0.26,"color":"#000"},{"offset":0.262,"color":"#fff"},{"offset":0.268,"color":"#fff"},
        {"offset":0.27,"color":"#000"},{"offset":0.272,"color":"#fff"},{"offset":0.278,"color":"#fff"},
        {"offset":0.28,"color":"#000"},{"offset":0.282,"color":"#fff"},{"offset":0.288,"color":"#fff"},
        {"offset":0.29,"color":"#000"},{"offset":0.292,"color":"#fff"},{"offset":0.298,"color":"#fff"},
        {"offset":0.3,"color":"#000"},{"offset":0.302,"color":"#fff"},{"offset":0.308,"color":"#fff"},
        {"offset":0.31,"color":"#000"},{"offset":0.312,"color":"#fff"},{"offset":0.318,"color":"#fff"},
        {"offset":0.32,"color":"#000"},{"offset":0.322,"color":"#fff"},{"offset":0.328,"color":"#fff"},
        {"offset":0.33,"color":"#000"},{"offset":0.332,"color":"#fff"},{"offset":0.338,"color":"#fff"},
        {"offset":0.34,"color":"#000"},{"offset":0.342,"color":"#fff"},{"offset":0.348,"color":"#fff"},
        {"offset":0.35,"color":"#000"},{"offset":0.352,"color":"#fff"},{"offset":0.358,"color":"#fff"},
        {"offset":0.36,"color":"#000"},{"offset":0.362,"color":"#fff"},{"offset":0.368,"color":"#fff"},
        {"offset":0.37,"color":"#000"},{"offset":0.372,"color":"#fff"},{"offset":0.378,"color":"#fff"},
        {"offset":0.38,"color":"#000"},{"offset":0.382,"color":"#fff"},{"offset":0.388,"color":"#fff"},
        {"offset":0.39,"color":"#000"},{"offset":0.392,"color":"#fff"},{"offset":0.398,"color":"#fff"},
        {"offset":0.4,"color":"#000"},{"offset":0.402,"color":"#fff"},{"offset":0.408,"color":"#fff"},
        {"offset":0.41,"color":"#000"},{"offset":0.412,"color":"#fff"},{"offset":0.418,"color":"#fff"},
        {"offset":0.42,"color":"#000"},{"offset":0.422,"color":"#fff"},{"offset":0.428,"color":"#fff"},
        {"offset":0.43,"color":"#000"},{"offset":0.432,"color":"#fff"},{"offset":0.438,"color":"#fff"},
        {"offset":0.44,"color":"#000"},{"offset":0.442,"color":"#fff"},{"offset":0.448,"color":"#fff"},
        {"offset":0.45,"color":"#000"},{"offset":0.452,"color":"#fff"},{"offset":0.458,"color":"#fff"},
        {"offset":0.46,"color":"#000"},{"offset":0.462,"color":"#fff"},{"offset":0.468,"color":"#fff"},
        {"offset":0.47,"color":"#000"},{"offset":0.472,"color":"#fff"},{"offset":0.478,"color":"#fff"},
        {"offset":0.48,"color":"#000"},{"offset":0.482,"color":"#fff"},{"offset":0.488,"color":"#fff"},
        {"offset":0.49,"color":"#000"},{"offset":0.492,"color":"#fff"},{"offset":0.498,"color":"#fff"},
        {"offset":0.5,"color":"#000"},{"offset":0.502,"color":"#fff"},{"offset":0.508,"color":"#fff"},
        {"offset":0.51,"color":"#000"},{"offset":0.512,"color":"#fff"},{"offset":0.518,"color":"#fff"},
        {"offset":0.52,"color":"#000"},{"offset":0.522,"color":"#fff"},{"offset":0.528,"color":"#fff"},
        {"offset":0.53,"color":"#000"},{"offset":0.532,"color":"#fff"},{"offset":0.538,"color":"#fff"},
        {"offset":0.54,"color":"#000"},{"offset":0.542,"color":"#fff"},{"offset":0.548,"color":"#fff"},
        {"offset":0.55,"color":"#000"},{"offset":0.552,"color":"#fff"},{"offset":0.558,"color":"#fff"},
        {"offset":0.56,"color":"#000"},{"offset":0.562,"color":"#fff"},{"offset":0.568,"color":"#fff"},
        {"offset":0.57,"color":"#000"},{"offset":0.572,"color":"#fff"},{"offset":0.578,"color":"#fff"},
        {"offset":0.58,"color":"#000"},{"offset":0.582,"color":"#fff"},{"offset":0.588,"color":"#fff"},
        {"offset":0.59,"color":"#000"},{"offset":0.592,"color":"#fff"},{"offset":0.598,"color":"#fff"},
        {"offset":0.6,"color":"#000"},{"offset":0.602,"color":"#fff"},{"offset":0.608,"color":"#fff"},
        {"offset":0.61,"color":"#000"},{"offset":0.612,"color":"#fff"},{"offset":0.618,"color":"#fff"},
        {"offset":0.62,"color":"#000"},{"offset":0.622,"color":"#fff"},{"offset":0.628,"color":"#fff"},
        {"offset":0.63,"color":"#000"},{"offset":0.632,"color":"#fff"},{"offset":0.638,"color":"#fff"},
        {"offset":0.64,"color":"#000"},{"offset":0.642,"color":"#fff"},{"offset":0.648,"color":"#fff"},
        {"offset":0.65,"color":"#000"},{"offset":0.652,"color":"#fff"},{"offset":0.658,"color":"#fff"},
        {"offset":0.66,"color":"#000"},{"offset":0.662,"color":"#fff"},{"offset":0.668,"color":"#fff"},
        {"offset":0.67,"color":"#000"},{"offset":0.672,"color":"#fff"},{"offset":0.678,"color":"#fff"},
        {"offset":0.68,"color":"#000"},{"offset":0.682,"color":"#fff"},{"offset":0.688,"color":"#fff"},
        {"offset":0.69,"color":"#000"},{"offset":0.692,"color":"#fff"},{"offset":0.698,"color":"#fff"},
        {"offset":0.7,"color":"#000"},{"offset":0.702,"color":"#fff"},{"offset":0.708,"color":"#fff"},
        {"offset":0.71,"color":"#000"},{"offset":0.712,"color":"#fff"},{"offset":0.718,"color":"#fff"},
        {"offset":0.72,"color":"#000"},{"offset":0.722,"color":"#fff"},{"offset":0.728,"color":"#fff"},
        {"offset":0.73,"color":"#000"},{"offset":0.732,"color":"#fff"},{"offset":0.738,"color":"#fff"},
        {"offset":0.74,"color":"#000"},{"offset":0.742,"color":"#fff"},{"offset":0.748,"color":"#fff"},
        {"offset":0.75,"color":"#000"},{"offset":0.752,"color":"#fff"},{"offset":0.758,"color":"#fff"},
        {"offset":0.76,"color":"#000"},{"offset":0.762,"color":"#fff"},{"offset":0.768,"color":"#fff"},
        {"offset":0.77,"color":"#000"},{"offset":0.772,"color":"#fff"},{"offset":0.778,"color":"#fff"},
        {"offset":0.78,"color":"#000"},{"offset":0.782,"color":"#fff"},{"offset":0.788,"color":"#fff"},
        {"offset":0.79,"color":"#000"},{"offset":0.792,"color":"#fff"},{"offset":0.798,"color":"#fff"},
        {"offset":0.8,"color":"#000"},{"offset":0.802,"color":"#fff"},{"offset":0.808,"color":"#fff"},
        {"offset":0.81,"color":"#000"},{"offset":0.812,"color":"#fff"},{"offset":0.818,"color":"#fff"},
        {"offset":0.82,"color":"#000"},{"offset":0.822,"color":"#fff"},{"offset":0.828,"color":"#fff"},
        {"offset":0.83,"color":"#000"},{"offset":0.832,"color":"#fff"},{"offset":0.838,"color":"#fff"},
        {"offset":0.84,"color":"#000"},{"offset":0.842,"color":"#fff"},{"offset":0.848,"color":"#fff"},
        {"offset":0.85,"color":"#000"},{"offset":0.852,"color":"#fff"},{"offset":0.858,"color":"#fff"},
        {"offset":0.86,"color":"#000"},{"offset":0.862,"color":"#fff"},{"offset":0.868,"color":"#fff"},
        {"offset":0.87,"color":"#000"},{"offset":0.872,"color":"#fff"},{"offset":0.878,"color":"#fff"},
        {"offset":0.88,"color":"#000"},{"offset":0.882,"color":"#fff"},{"offset":0.888,"color":"#fff"},
        {"offset":0.89,"color":"#000"},{"offset":0.892,"color":"#fff"},{"offset":0.898,"color":"#fff"},
        {"offset":0.9,"color":"#000"},{"offset":0.902,"color":"#fff"},{"offset":0.908,"color":"#fff"},
        {"offset":0.91,"color":"#000"},{"offset":0.912,"color":"#fff"},{"offset":0.918,"color":"#fff"},
        {"offset":0.92,"color":"#000"},{"offset":0.922,"color":"#fff"},{"offset":0.928,"color":"#fff"},
        {"offset":0.93,"color":"#000"},{"offset":0.932,"color":"#fff"},{"offset":0.938,"color":"#fff"},
        {"offset":0.94,"color":"#000"},{"offset":0.942,"color":"#fff"},{"offset":0.948,"color":"#fff"},
        {"offset":0.95,"color":"#000"},{"offset":0.952,"color":"#fff"},{"offset":0.958,"color":"#fff"},
        {"offset":0.96,"color":"#000"},{"offset":0.962,"color":"#fff"},{"offset":0.968,"color":"#fff"},
        {"offset":0.97,"color":"#000"},{"offset":0.972,"color":"#fff"},{"offset":0.978,"color":"#fff"},
        {"offset":0.98,"color":"#000"},{"offset":0.982,"color":"#fff"},{"offset":0.988,"color":"#fff"},
        {"offset":0.99,"color":"#000"},{"offset":0.992,"color":"#fff"},{"offset":0.998,"color":"#fff"},
        {"offset":1,"color":"#000"}]}},
      "hatchB": {"color": {"gradient": "linear", "x1": 0, "y1": 1, "x2": 1, "y2": 0, "stops": [
        {"offset":0,"color":"#000"},{"offset":0.002,"color":"#fff"},{"offset":0.008,"color":"#fff"},
        {"offset":0.01,"color":"#000"},{"offset":0.012,"color":"#fff"},{"offset":0.018,"color":"#fff"},
        {"offset":0.02,"color":"#000"},{"offset":0.022,"color":"#fff"},{"offset":0.028,"color":"#fff"},
        {"offset":0.03,"color":"#000"},{"offset":0.032,"color":"#fff"},{"offset":0.038,"color":"#fff"},
        {"offset":0.04,"color":"#000"},{"offset":0.042,"color":"#fff"},{"offset":0.048,"color":"#fff"},
        {"offset":0.05,"color":"#000"},{"offset":0.052,"color":"#fff"},{"offset":0.058,"color":"#fff"},
        {"offset":0.06,"color":"#000"},{"offset":0.062,"color":"#fff"},{"offset":0.068,"color":"#fff"},
        {"offset":0.07,"color":"#000"},{"offset":0.072,"color":"#fff"},{"offset":0.078,"color":"#fff"},
        {"offset":0.08,"color":"#000"},{"offset":0.082,"color":"#fff"},{"offset":0.088,"color":"#fff"},
        {"offset":0.09,"color":"#000"},{"offset":0.092,"color":"#fff"},{"offset":0.098,"color":"#fff"},
        {"offset":0.1,"color":"#000"},{"offset":0.102,"color":"#fff"},{"offset":0.108,"color":"#fff"},
        {"offset":0.11,"color":"#000"},{"offset":0.112,"color":"#fff"},{"offset":0.118,"color":"#fff"},
        {"offset":0.12,"color":"#000"},{"offset":0.122,"color":"#fff"},{"offset":0.128,"color":"#fff"},
        {"offset":0.13,"color":"#000"},{"offset":0.132,"color":"#fff"},{"offset":0.138,"color":"#fff"},
        {"offset":0.14,"color":"#000"},{"offset":0.142,"color":"#fff"},{"offset":0.148,"color":"#fff"},
        {"offset":0.15,"color":"#000"},{"offset":0.152,"color":"#fff"},{"offset":0.158,"color":"#fff"},
        {"offset":0.16,"color":"#000"},{"offset":0.162,"color":"#fff"},{"offset":0.168,"color":"#fff"},
        {"offset":0.17,"color":"#000"},{"offset":0.172,"color":"#fff"},{"offset":0.178,"color":"#fff"},
        {"offset":0.18,"color":"#000"},{"offset":0.182,"color":"#fff"},{"offset":0.188,"color":"#fff"},
        {"offset":0.19,"color":"#000"},{"offset":0.192,"color":"#fff"},{"offset":0.198,"color":"#fff"},
        {"offset":0.2,"color":"#000"},{"offset":0.202,"color":"#fff"},{"offset":0.208,"color":"#fff"},
        {"offset":0.21,"color":"#000"},{"offset":0.212,"color":"#fff"},{"offset":0.218,"color":"#fff"},
        {"offset":0.22,"color":"#000"},{"offset":0.222,"color":"#fff"},{"offset":0.228,"color":"#fff"},
        {"offset":0.23,"color":"#000"},{"offset":0.232,"color":"#fff"},{"offset":0.238,"color":"#fff"},
        {"offset":0.24,"color":"#000"},{"offset":0.242,"color":"#fff"},{"offset":0.248,"color":"#fff"},
        {"offset":0.25,"color":"#000"},{"offset":0.252,"color":"#fff"},{"offset":0.258,"color":"#fff"},
        {"offset":0.26,"color":"#000"},{"offset":0.262,"color":"#fff"},{"offset":0.268,"color":"#fff"},
        {"offset":0.27,"color":"#000"},{"offset":0.272,"color":"#fff"},{"offset":0.278,"color":"#fff"},
        {"offset":0.28,"color":"#000"},{"offset":0.282,"color":"#fff"},{"offset":0.288,"color":"#fff"},
        {"offset":0.29,"color":"#000"},{"offset":0.292,"color":"#fff"},{"offset":0.298,"color":"#fff"},
        {"offset":0.3,"color":"#000"},{"offset":0.302,"color":"#fff"},{"offset":0.308,"color":"#fff"},
        {"offset":0.31,"color":"#000"},{"offset":0.312,"color":"#fff"},{"offset":0.318,"color":"#fff"},
        {"offset":0.32,"color":"#000"},{"offset":0.322,"color":"#fff"},{"offset":0.328,"color":"#fff"},
        {"offset":0.33,"color":"#000"},{"offset":0.332,"color":"#fff"},{"offset":0.338,"color":"#fff"},
        {"offset":0.34,"color":"#000"},{"offset":0.342,"color":"#fff"},{"offset":0.348,"color":"#fff"},
        {"offset":0.35,"color":"#000"},{"offset":0.352,"color":"#fff"},{"offset":0.358,"color":"#fff"},
        {"offset":0.36,"color":"#000"},{"offset":0.362,"color":"#fff"},{"offset":0.368,"color":"#fff"},
        {"offset":0.37,"color":"#000"},{"offset":0.372,"color":"#fff"},{"offset":0.378,"color":"#fff"},
        {"offset":0.38,"color":"#000"},{"offset":0.382,"color":"#fff"},{"offset":0.388,"color":"#fff"},
        {"offset":0.39,"color":"#000"},{"offset":0.392,"color":"#fff"},{"offset":0.398,"color":"#fff"},
        {"offset":0.4,"color":"#000"},{"offset":0.402,"color":"#fff"},{"offset":0.408,"color":"#fff"},
        {"offset":0.41,"color":"#000"},{"offset":0.412,"color":"#fff"},{"offset":0.418,"color":"#fff"},
        {"offset":0.42,"color":"#000"},{"offset":0.422,"color":"#fff"},{"offset":0.428,"color":"#fff"},
        {"offset":0.43,"color":"#000"},{"offset":0.432,"color":"#fff"},{"offset":0.438,"color":"#fff"},
        {"offset":0.44,"color":"#000"},{"offset":0.442,"color":"#fff"},{"offset":0.448,"color":"#fff"},
        {"offset":0.45,"color":"#000"},{"offset":0.452,"color":"#fff"},{"offset":0.458,"color":"#fff"},
        {"offset":0.46,"color":"#000"},{"offset":0.462,"color":"#fff"},{"offset":0.468,"color":"#fff"},
        {"offset":0.47,"color":"#000"},{"offset":0.472,"color":"#fff"},{"offset":0.478,"color":"#fff"},
        {"offset":0.48,"color":"#000"},{"offset":0.482,"color":"#fff"},{"offset":0.488,"color":"#fff"},
        {"offset":0.49,"color":"#000"},{"offset":0.492,"color":"#fff"},{"offset":0.498,"color":"#fff"},
        {"offset":0.5,"color":"#000"},{"offset":0.502,"color":"#fff"},{"offset":0.508,"color":"#fff"},
        {"offset":0.51,"color":"#000"},{"offset":0.512,"color":"#fff"},{"offset":0.518,"color":"#fff"},
        {"offset":0.52,"color":"#000"},{"offset":0.522,"color":"#fff"},{"offset":0.528,"color":"#fff"},
        {"offset":0.53,"color":"#000"},{"offset":0.532,"color":"#fff"},{"offset":0.538,"color":"#fff"},
        {"offset":0.54,"color":"#000"},{"offset":0.542,"color":"#fff"},{"offset":0.548,"color":"#fff"},
        {"offset":0.55,"color":"#000"},{"offset":0.552,"color":"#fff"},{"offset":0.558,"color":"#fff"},
        {"offset":0.56,"color":"#000"},{"offset":0.562,"color":"#fff"},{"offset":0.568,"color":"#fff"},
        {"offset":0.57,"color":"#000"},{"offset":0.572,"color":"#fff"},{"offset":0.578,"color":"#fff"},
        {"offset":0.58,"color":"#000"},{"offset":0.582,"color":"#fff"},{"offset":0.588,"color":"#fff"},
        {"offset":0.59,"color":"#000"},{"offset":0.592,"color":"#fff"},{"offset":0.598,"color":"#fff"},
        {"offset":0.6,"color":"#000"},{"offset":0.602,"color":"#fff"},{"offset":0.608,"color":"#fff"},
        {"offset":0.61,"color":"#000"},{"offset":0.612,"color":"#fff"},{"offset":0.618,"color":"#fff"},
        {"offset":0.62,"color":"#000"},{"offset":0.622,"color":"#fff"},{"offset":0.628,"color":"#fff"},
        {"offset":0.63,"color":"#000"},{"offset":0.632,"color":"#fff"},{"offset":0.638,"color":"#fff"},
        {"offset":0.64,"color":"#000"},{"offset":0.642,"color":"#fff"},{"offset":0.648,"color":"#fff"},
        {"offset":0.65,"color":"#000"},{"offset":0.652,"color":"#fff"},{"offset":0.658,"color":"#fff"},
        {"offset":0.66,"color":"#000"},{"offset":0.662,"color":"#fff"},{"offset":0.668,"color":"#fff"},
        {"offset":0.67,"color":"#000"},{"offset":0.672,"color":"#fff"},{"offset":0.678,"color":"#fff"},
        {"offset":0.68,"color":"#000"},{"offset":0.682,"color":"#fff"},{"offset":0.688,"color":"#fff"},
        {"offset":0.69,"color":"#000"},{"offset":0.692,"color":"#fff"},{"offset":0.698,"color":"#fff"},
        {"offset":0.7,"color":"#000"},{"offset":0.702,"color":"#fff"},{"offset":0.708,"color":"#fff"},
        {"offset":0.71,"color":"#000"},{"offset":0.712,"color":"#fff"},{"offset":0.718,"color":"#fff"},
        {"offset":0.72,"color":"#000"},{"offset":0.722,"color":"#fff"},{"offset":0.728,"color":"#fff"},
        {"offset":0.73,"color":"#000"},{"offset":0.732,"color":"#fff"},{"offset":0.738,"color":"#fff"},
        {"offset":0.74,"color":"#000"},{"offset":0.742,"color":"#fff"},{"offset":0.748,"color":"#fff"},
        {"offset":0.75,"color":"#000"},{"offset":0.752,"color":"#fff"},{"offset":0.758,"color":"#fff"},
        {"offset":0.76,"color":"#000"},{"offset":0.762,"color":"#fff"},{"offset":0.768,"color":"#fff"},
        {"offset":0.77,"color":"#000"},{"offset":0.772,"color":"#fff"},{"offset":0.778,"color":"#fff"},
        {"offset":0.78,"color":"#000"},{"offset":0.782,"color":"#fff"},{"offset":0.788,"color":"#fff"},
        {"offset":0.79,"color":"#000"},{"offset":0.792,"color":"#fff"},{"offset":0.798,"color":"#fff"},
        {"offset":0.8,"color":"#000"},{"offset":0.802,"color":"#fff"},{"offset":0.808,"color":"#fff"},
        {"offset":0.81,"color":"#000"},{"offset":0.812,"color":"#fff"},{"offset":0.818,"color":"#fff"},
        {"offset":0.82,"color":"#000"},{"offset":0.822,"color":"#fff"},{"offset":0.828,"color":"#fff"},
        {"offset":0.83,"color":"#000"},{"offset":0.832,"color":"#fff"},{"offset":0.838,"color":"#fff"},
        {"offset":0.84,"color":"#000"},{"offset":0.842,"color":"#fff"},{"offset":0.848,"color":"#fff"},
        {"offset":0.85,"color":"#000"},{"offset":0.852,"color":"#fff"},{"offset":0.858,"color":"#fff"},
        {"offset":0.86,"color":"#000"},{"offset":0.862,"color":"#fff"},{"offset":0.868,"color":"#fff"},
        {"offset":0.87,"color":"#000"},{"offset":0.872,"color":"#fff"},{"offset":0.878,"color":"#fff"},
        {"offset":0.88,"color":"#000"},{"offset":0.882,"color":"#fff"},{"offset":0.888,"color":"#fff"},
        {"offset":0.89,"color":"#000"},{"offset":0.892,"color":"#fff"},{"offset":0.898,"color":"#fff"},
        {"offset":0.9,"color":"#000"},{"offset":0.902,"color":"#fff"},{"offset":0.908,"color":"#fff"},
        {"offset":0.91,"color":"#000"},{"offset":0.912,"color":"#fff"},{"offset":0.918,"color":"#fff"},
        {"offset":0.92,"color":"#000"},{"offset":0.922,"color":"#fff"},{"offset":0.928,"color":"#fff"},
        {"offset":0.93,"color":"#000"},{"offset":0.932,"color":"#fff"},{"offset":0.938,"color":"#fff"},
        {"offset":0.94,"color":"#000"},{"offset":0.942,"color":"#fff"},{"offset":0.948,"color":"#fff"},
        {"offset":0.95,"color":"#000"},{"offset":0.952,"color":"#fff"},{"offset":0.958,"color":"#fff"},
        {"offset":0.96,"color":"#000"},{"offset":0.962,"color":"#fff"},{"offset":0.968,"color":"#fff"},
        {"offset":0.97,"color":"#000"},{"offset":0.972,"color":"#fff"},{"offset":0.978,"color":"#fff"},
        {"offset":0.98,"color":"#000"},{"offset":0.982,"color":"#fff"},{"offset":0.988,"color":"#fff"},
        {"offset":0.99,"color":"#000"},{"offset":0.992,"color":"#fff"},{"offset":0.998,"color":"#fff"},
        {"offset":1,"color":"#000"}]}}
    }
  }
}
